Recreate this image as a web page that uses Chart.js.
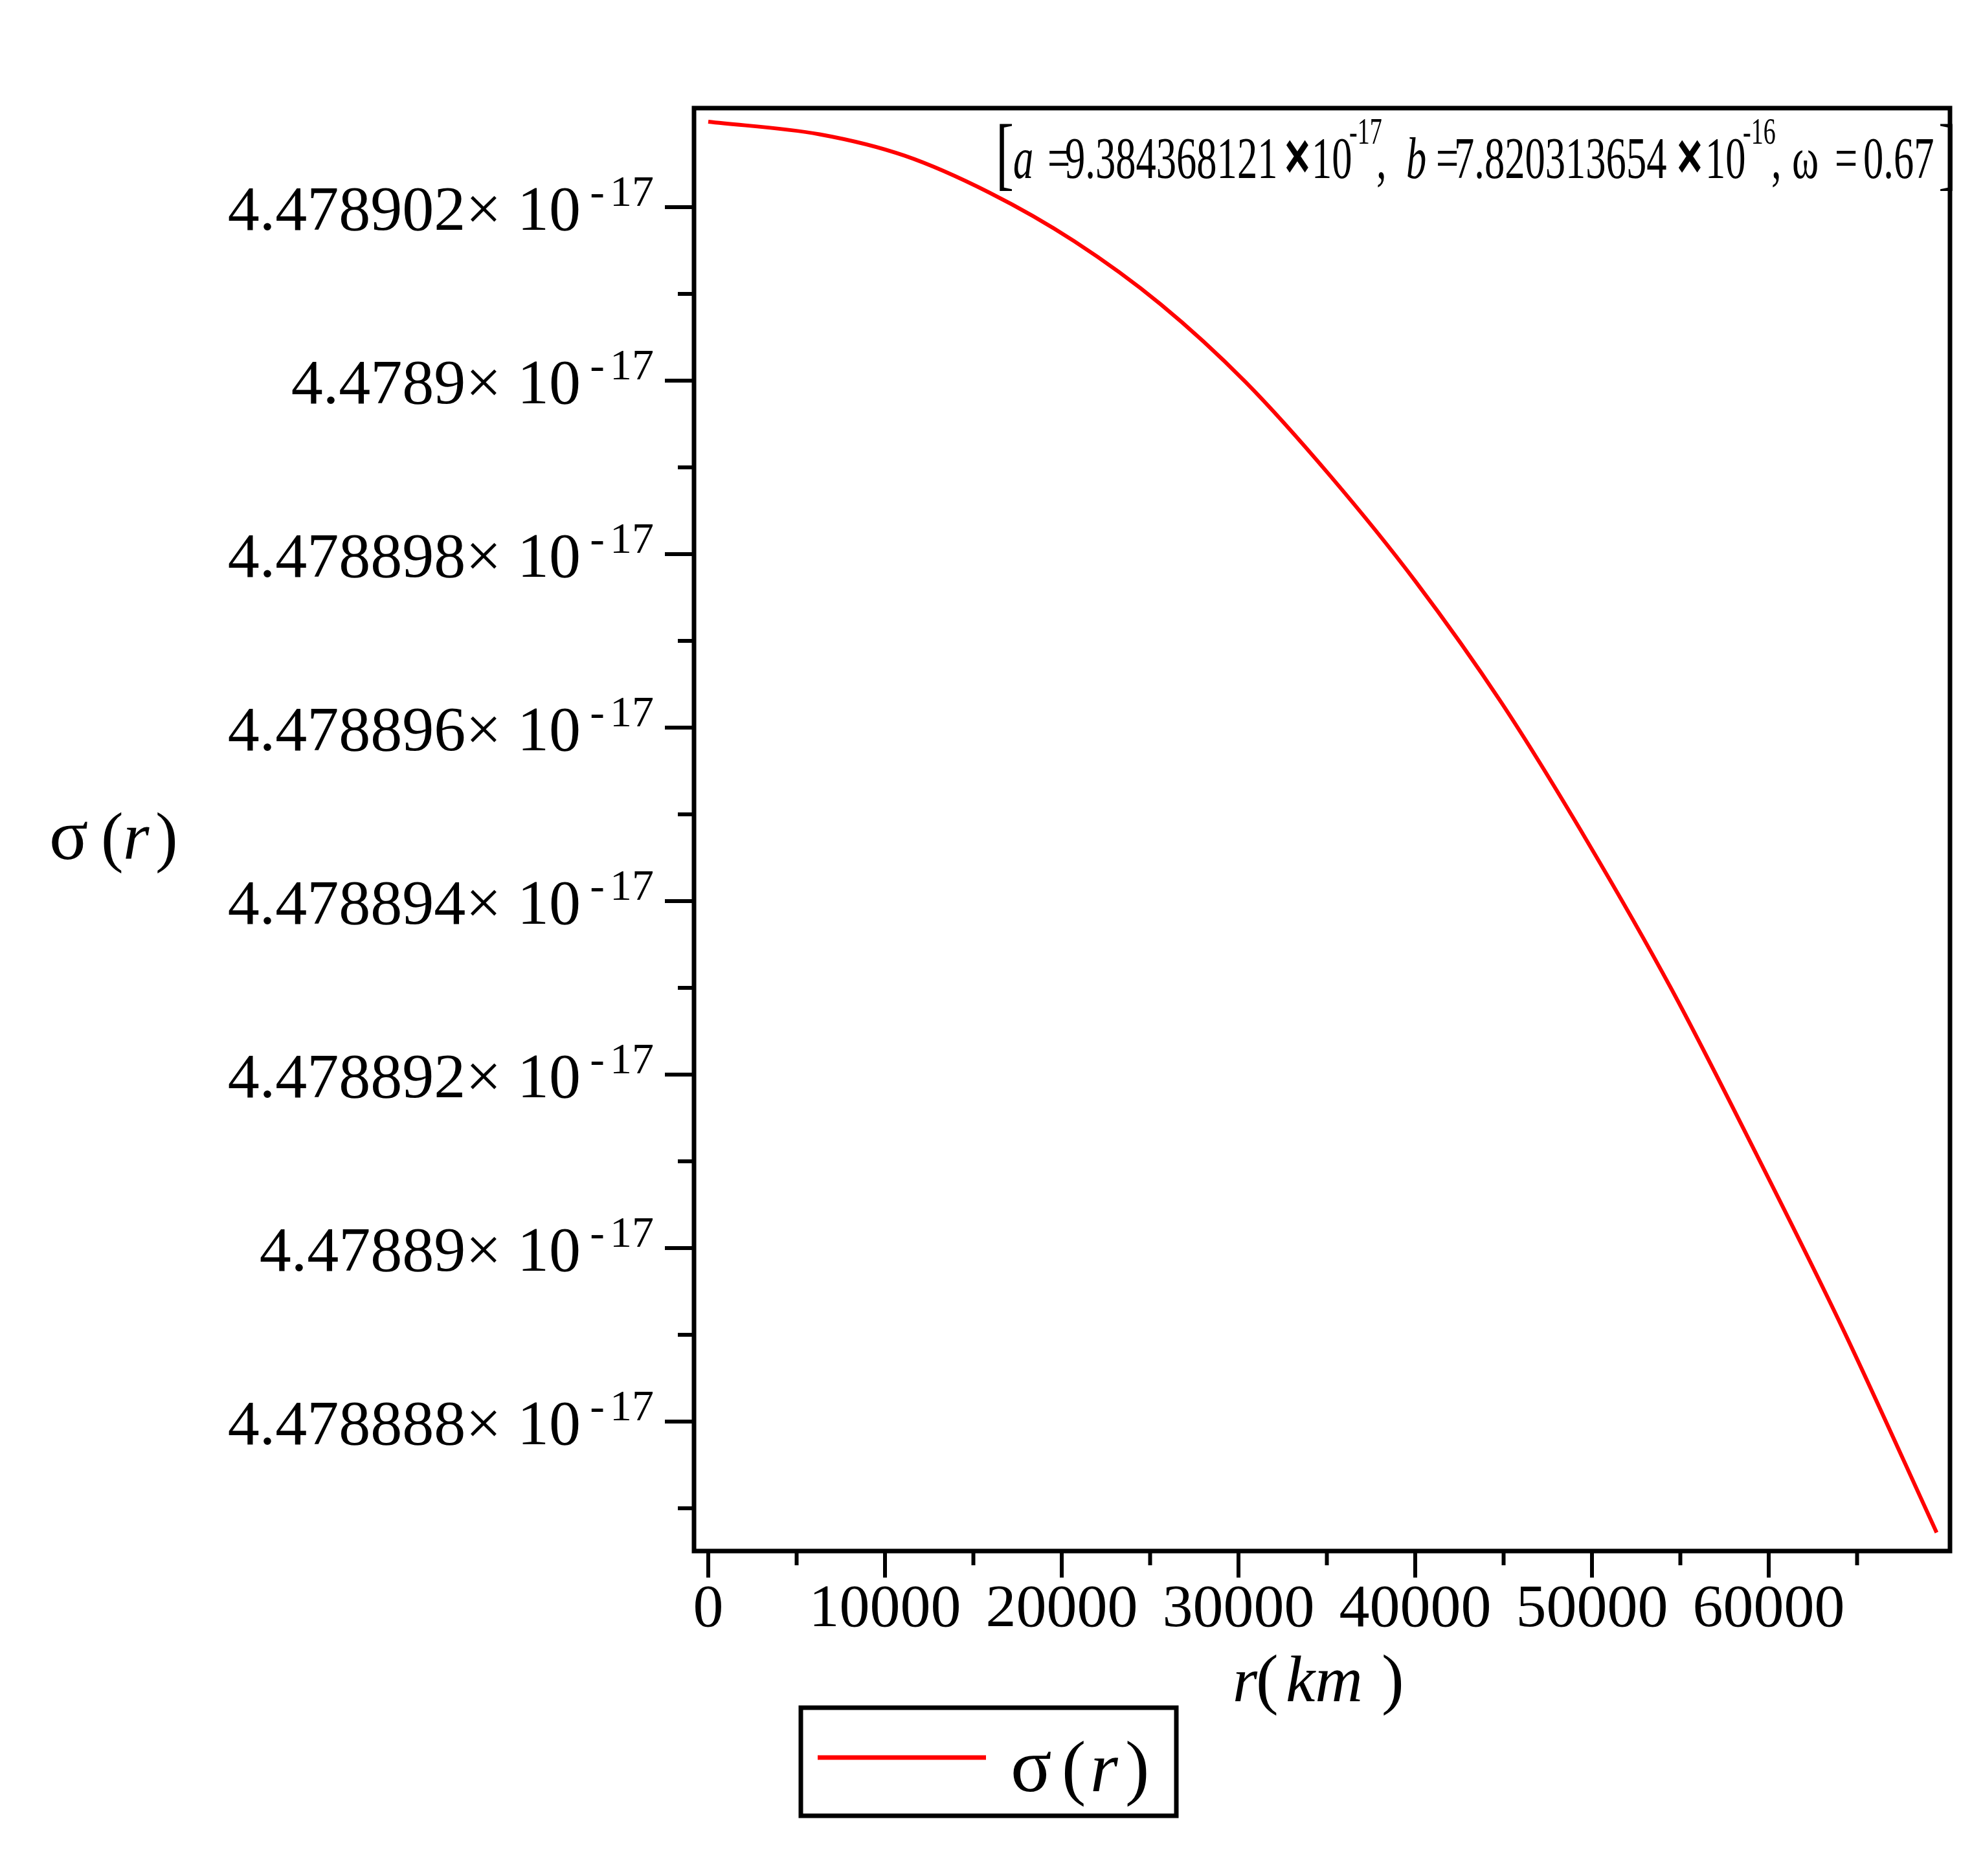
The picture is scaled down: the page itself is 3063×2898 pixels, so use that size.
<!DOCTYPE html>
<html>
<head>
<meta charset="utf-8">
<script src="https://cdn.jsdelivr.net/npm/chart.js@4.4.1/dist/chart.umd.min.js"></script>
<style>
html, body { margin: 0; padding: 0; background: #fff; }
canvas { display: block; }
</style>
</head>
<body>
<canvas id="canvas_sigma" width="3063" height="2898"></canvas>
<script>
// r in km, sigma(r) in units of 10^-17
var rKm = [0, 6300, 11100, 15900, 20700, 25600, 30400, 35200, 40000, 44900,
           49700, 54500, 59300, 64200, 69500];
var sigma = [4.478902985, 4.478902840, 4.478902594, 4.478902168, 4.478901608,
             4.478900880, 4.478899984, 4.478898900, 4.478897689, 4.478896280,
             4.478894700, 4.478892985, 4.478891082, 4.478889066, 4.478886720];

var xMajorTicks = [0, 10000, 20000, 30000, 40000, 50000, 60000];
var xMinorTicks = [5000, 15000, 25000, 35000, 45000, 55000, 65000];
var yMajorTicks = [4.478902, 4.4789, 4.478898, 4.478896, 4.478894, 4.478892, 4.47889, 4.478888];
var yTickLabels = ["4.478902", "4.4789", "4.478898", "4.478896", "4.478894", "4.478892", "4.47889", "4.478888"];
var yMinorTicks = [4.478901, 4.478899, 4.478897, 4.478895, 4.478893, 4.478891, 4.478889, 4.478887];
var yExponent = "17";
var seriesName = "\u03c3(r)";

var SERIF = "'Liberation Serif', 'Times New Roman', serif";
var SANS = "'Liberation Sans', Arial, sans-serif";

function txt(ctx, s, x, y, font, align, sx) {
    ctx.save();
    ctx.font = font;
    ctx.textAlign = align || 'left';
    ctx.textBaseline = 'alphabetic';
    ctx.fillStyle = '#000';
    ctx.translate(x, y);
    if (sx) ctx.scale(sx, 1);
    ctx.fillText(s, 0, 0);
    ctx.restore();
}

function line(ctx, x1, y1, x2, y2, w, color) {
    ctx.save();
    ctx.strokeStyle = color || '#000';
    ctx.lineWidth = w;
    ctx.beginPath();
    ctx.moveTo(x1, y1);
    ctx.lineTo(x2, y2);
    ctx.stroke();
    ctx.restore();
}

var maplePlugin = {
    id: 'maple',
    afterDatasetsDraw: function(chart) {
        var ctx = chart.ctx;
        var a = chart.chartArea;
        var xs = chart.scales.x, ys = chart.scales.y;

        // frame
        ctx.save();
        ctx.strokeStyle = '#000';
        ctx.lineWidth = 7;
        ctx.strokeRect(a.left, a.top, a.right - a.left, a.bottom - a.top);
        ctx.restore();

        // x ticks + labels
        xMajorTicks.forEach(function(v) {
            var px = xs.getPixelForValue(v);
            line(ctx, px, a.bottom, px, a.bottom + 41, 6);
            txt(ctx, String(v), px, a.bottom + 116, '94px ' + SERIF, 'center');
        });
        xMinorTicks.forEach(function(v) {
            var px = xs.getPixelForValue(v);
            line(ctx, px, a.bottom, px, a.bottom + 22, 6);
        });

        // y ticks + labels
        var supFont = '68px ' + SERIF;
        yMajorTicks.forEach(function(v, i) {
            var py = ys.getPixelForValue(v);
            line(ctx, a.left, py, a.left - 45, py, 6);
            txt(ctx, yExponent, a.left - 62, py - 2, supFont, 'right');
            txt(ctx, '-', a.left - 138, py - 2, supFont, 'right');
            txt(ctx, yTickLabels[i] + '\u00d7 10', a.left - 175, py + 35, '98px ' + SERIF, 'right');
        });
        yMinorTicks.forEach(function(v) {
            var py = ys.getPixelForValue(v);
            line(ctx, a.left, py, a.left - 25, py, 6);
        });

        // axis titles
        var big = '104px ' + SERIF;
        var bigI = 'italic 104px ' + SERIF;
        txt(ctx, 'r', 1904, 2628, 'italic 98px ' + SERIF);
        txt(ctx, '(', 1940, 2628, big);
        txt(ctx, 'km', 1986, 2628, 'italic 102px ' + SERIF);
        txt(ctx, ')', 2134, 2628, big);

        txt(ctx, '\u03c3', 76, 1327, '112px ' + SERIF);
        txt(ctx, '(', 156, 1327, big);
        txt(ctx, 'r', 190, 1327, bigI);
        txt(ctx, ')', 240, 1327, big);

        // legend
        ctx.save();
        ctx.strokeStyle = '#000';
        ctx.lineWidth = 7;
        ctx.strokeRect(1237, 2638, 580, 167);
        ctx.restore();
        line(ctx, 1263, 2715, 1523, 2715, 7, 'rgb(255,0,0)');
        txt(ctx, '\u03c3', 1561, 2767, '118px ' + SERIF);
        txt(ctx, '(', 1640, 2767, '112px ' + SERIF);
        txt(ctx, 'r', 1684, 2767, 'italic 110px ' + SERIF);
        txt(ctx, ')', 1738, 2767, '112px ' + SERIF);

        // parameter annotation (condensed)
        var k = 0.68;
        var m = '92px ' + SERIF, mi = 'italic 92px ' + SERIF, s = '56px ' + SERIF;
        var bx = 'bold 100px ' + SANS;
        var by = 275;
        txt(ctx, '[', 1538, 278, '124px ' + SERIF, 'left', k);
        txt(ctx, 'a', 1565, by, mi, 'left', k);
        txt(ctx, '=', 1618, by, m, 'left', k);
        txt(ctx, '9.384368121', 1645, by, m, 'left', k);
        txt(ctx, '\u00d7', 1984, by, bx, 'left', k);
        txt(ctx, '10', 2026, by, m, 'left', k);
        txt(ctx, '-17', 2084, 222, s, 'left', k);
        txt(ctx, ',', 2126, by, m, 'left', k);
        txt(ctx, 'b', 2172, by, mi, 'left', k);
        txt(ctx, '=', 2218, by, m, 'left', k);
        txt(ctx, '7.820313654', 2246, by, m, 'left', k);
        txt(ctx, '\u00d7', 2590, by, bx, 'left', k);
        txt(ctx, '10', 2634, by, m, 'left', k);
        txt(ctx, '-16', 2692, 222, s, 'left', k);
        txt(ctx, ',', 2736, by, m, 'left', k);
        txt(ctx, '\u03c9', 2768, by, m, 'left', k);
        txt(ctx, '=', 2834, by, m, 'left', k);
        txt(ctx, '0.67', 2878, by, m, 'left', k);
        txt(ctx, ']', 2994, 278, '124px ' + SERIF, 'left', k);
    }
};

var points = rKm.map(function(r, i) { return { x: r, y: sigma[i] }; });

var ctx1 = document.getElementById("canvas_sigma");
var sigmaChart = new Chart(ctx1, {
    type: 'line',
    data: {
        datasets: [{
            label: seriesName,
            data: points,
            borderColor: 'rgb(255,0,0)',
            borderWidth: 6,
            pointRadius: 0,
            fill: false,
            cubicInterpolationMode: 'monotone'
        }]
    },
    options: {
        responsive: false,
        animation: false,
        devicePixelRatio: 1,
        layout: { padding: { left: 1072, right: 51, top: 167, bottom: 502 } },
        plugins: { legend: { display: false }, tooltip: { enabled: false } },
        scales: {
            x: { type: 'linear', min: -806, max: 70256, display: false },
            y: { type: 'linear', min: 4.478886507, max: 4.478903142, display: false }
        }
    },
    plugins: [maplePlugin]
});
</script>
</body>
</html>
